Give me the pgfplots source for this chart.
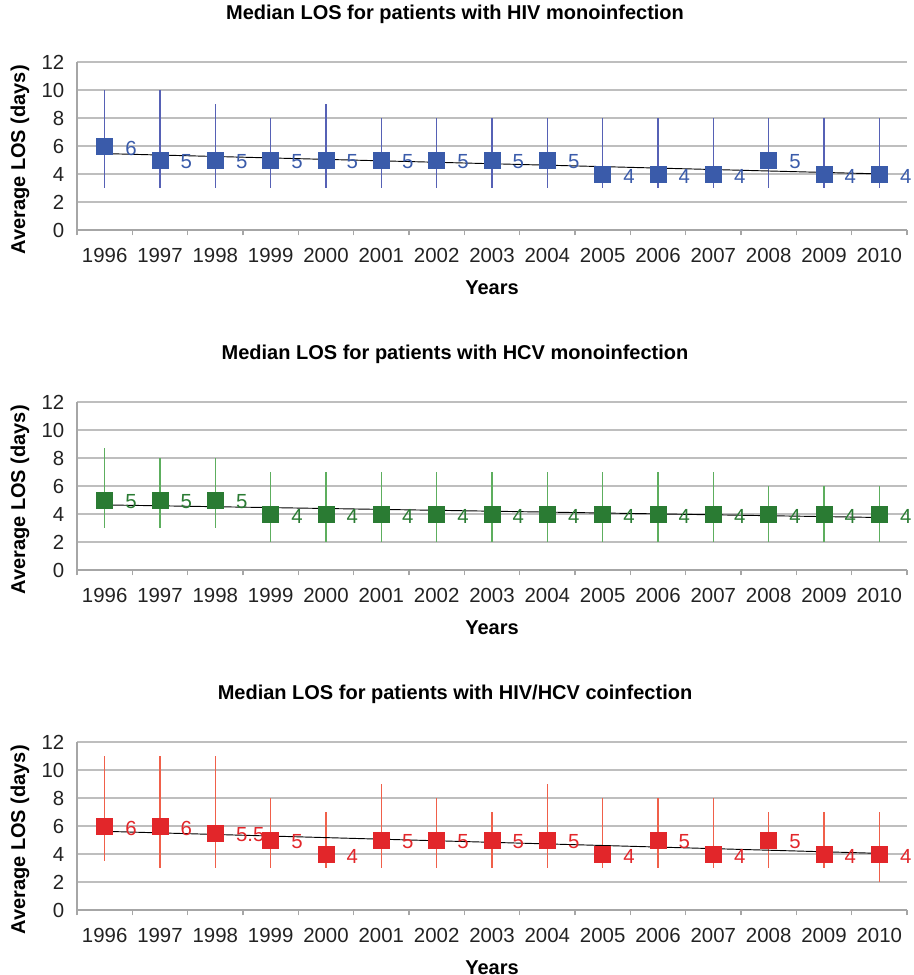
\documentclass[border=0pt]{standalone}
\usepackage{pgfplots}
\usepackage{pgfplotstable}
\pgfplotsset{compat=1.18}
\usepackage{fontspec}
\setmainfont{Liberation Sans}

\definecolor{gridgray}{HTML}{BEBEBE}
\definecolor{axisgray}{HTML}{A6A6A6}
\definecolor{labelgray}{HTML}{222222}
\definecolor{bluemark}{HTML}{3A5BAA}
\definecolor{blueerr}{HTML}{5661B5}
\definecolor{greenmark}{HTML}{2A7B33}
\definecolor{greenerr}{HTML}{5DAE5E}
\definecolor{redmark}{HTML}{E2262A}
\definecolor{rederr}{HTML}{F0604A}

% x: 0 = 1996 ... 14 = 2010; y = median; ep/em = distance to upper/lower end of range
\pgfplotstableread{
x y ep em
0 6 4 3
1 5 5 2
2 5 4 2
3 5 3 2
4 5 4 2
5 5 3 2
6 5 3 2
7 5 3 2
8 5 3 2
9 4 4 1
10 4 4 1
11 4 4 1
12 5 3 2
13 4 4 1
14 4 4 1
}\hivdata

\pgfplotstableread{
x y ep em
0 5 3.75 2
1 5 3 2
2 5 3 2
3 4 3 2
4 4 3 2
5 4 3 2
6 4 3 2
7 4 3 2
8 4 3 2
9 4 3 2
10 4 3 2
11 4 3 2
12 4 2 2
13 4 2 2
14 4 2 2
}\hcvdata

\pgfplotstableread{
x y ep em
0 6 5 2.5
1 6 5 3
2 5.5 5.5 2.5
3 5 3 2
4 4 3 1
5 5 4 2
6 5 3 2
7 5 2 2
8 5 4 2
9 4 4 1
10 5 3 2
11 4 4 1
12 5 2 2
13 4 3 1
14 4 3 2
}\coinfdata

\pgfplotsset{
  /pgf/number format/assume math mode=true,
  losaxis/.style={
    width=622.5pt, height=126pt, scale only axis,
    xmin=-0.5, xmax=14.5, ymin=0, ymax=12,
    xtick={0,...,14},
    xticklabels={1996,1997,1998,1999,2000,2001,2002,2003,2004,2005,2006,2007,2008,2009,2010},
    minor xtick={-0.5,0.5,...,14.5},
    ytick={0,2,...,12},
    ymajorgrids, grid style={draw=gridgray, line width=0.9pt},
    axis lines*=left,
    axis line style={draw=axisgray, line width=0.9pt, -},
    major tick length=0pt, minor tick length=4pt, tick align=outside,
    minor tick style={draw=axisgray, line width=0.9pt},
    tick label style={font=\fontsize{15.3}{17}\selectfont, text=labelgray},
    xticklabel style={yshift=-10.5pt},
    yticklabel style={xshift=-6pt},
    clip=false,
    xlabel={Years}, ylabel={Average LOS (days)},
    label style={font=\bfseries\fontsize{15}{17}\selectfont, text=black},
    xlabel style={at={(axis description cs:0.5,0)}, anchor=center, yshift=-43.5pt},
    ylabel style={at={(axis description cs:-0.0687,0.417)}, anchor=center, rotate=0},
    title style={at={(axis description cs:0.5,1)}, anchor=base, yshift=26.25pt,
      xshift=-27.75pt, font=\bfseries\fontsize{15}{17}\selectfont},
  },
  losplot/.style n args={2}{
    only marks, mark=square*, mark size=6pt,
    mark options={fill=#1, draw=#1},
    error bars/.cd, y dir=both, y explicit, error mark=none,
      error bar style={draw=#2, line width=0.8pt},
    /pgfplots/.cd,
    nodes near coords,
    every node near coord/.append style={anchor=west, xshift=12pt, yshift=-1.5pt,
      text=#1, font=\fontsize{15.3}{17}\selectfont},
  },
  trend/.style={black, line width=0.7pt, no marks},
}

\begin{document}
\begin{tikzpicture}
\useasboundingbox (-57.75pt,172.5pt) rectangle (627.75pt,-558.75pt);

\begin{axis}[losaxis, at={(0,0)}, anchor=south west,
  title={Median LOS for patients with HIV monoinfection}]
\addplot[losplot={bluemark}{blueerr}]
  table[x=x, y=y, y error plus=ep, y error minus=em] {\hivdata};
\addplot[trend] table[x=x, y={create col/linear regression={y=y}}] {\hivdata};
\end{axis}

\begin{axis}[losaxis, at={(0,-255pt)}, anchor=south west,
  title={Median LOS for patients with HCV monoinfection}]
\addplot[losplot={greenmark}{greenerr}]
  table[x=x, y=y, y error plus=ep, y error minus=em] {\hcvdata};
\addplot[trend] table[x=x, y={create col/linear regression={y=y}}] {\hcvdata};
\end{axis}

\begin{axis}[losaxis, at={(0,-510pt)}, anchor=south west,
  title={Median LOS for patients with HIV/HCV coinfection}]
\addplot[losplot={redmark}{rederr}]
  table[x=x, y=y, y error plus=ep, y error minus=em] {\coinfdata};
\addplot[trend] table[x=x, y={create col/linear regression={y=y}}] {\coinfdata};
\end{axis}
\end{tikzpicture}
\end{document}
